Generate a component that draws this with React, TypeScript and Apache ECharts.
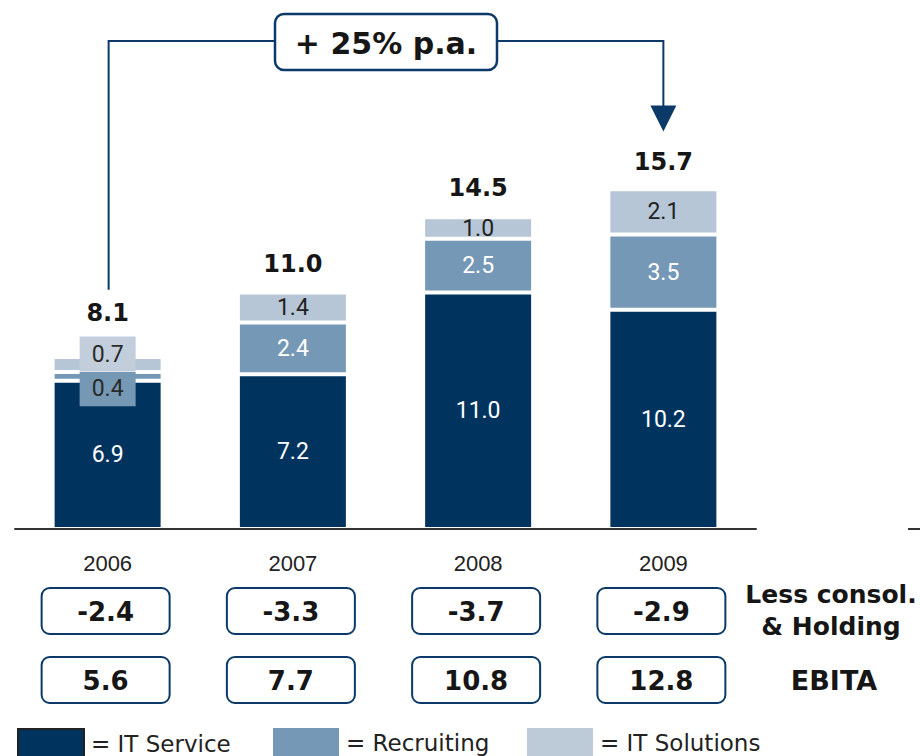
import { useEffect, useRef } from "react";
import * as echarts from "echarts";

// Revenue by segment (EUR m)
const years = ["2006", "2007", "2008", "2009"];
const itService = [6.9, 7.2, 11.0, 10.2];
const recruiting = [0.4, 2.4, 2.5, 3.5];
const itSolutions = [0.7, 1.4, 1.0, 2.1];
const totals = [8.1, 11.0, 14.5, 15.7];
// Rows under the axis
const consolHolding = [-2.4, -3.3, -3.7, -2.9];
const ebita = [5.6, 7.7, 10.8, 12.8];
const growthText = "+ 25% p.a.";
const rowLabels = ["Less consol.", "& Holding"];
const ebitaLabel = "EBITA";

const NAVY = "#00345f";
const STEEL = "#7498b5";
const PALE = "#b6c6d6";
const LINE = "#0b3a68";
const INK = "#161616";
const BOLD = '"DejaVu Sans", sans-serif';

const fmt = (v: number) => v.toFixed(1);

export default function App() {
  const ref = useRef<HTMLDivElement>(null);

  useEffect(() => {
    const chart = echarts.init(ref.current!, null, { renderer: "svg" });

    const insideLabel = (color: string) => ({
      show: true,
      position: "inside" as const,
      color,
      fontFamily: "Roboto",
      fontSize: 23,
      formatter: (p: any) => fmt(p.value),
    });

    // 2006 segments are too thin for their labels: show them as boxes
    const smallBox = (bg: string, dy: number) => ({
      show: true,
      position: "inside",
      offset: [0, dy],
      width: 56,
      height: 35,
      lineHeight: 35,
      align: "center",
      verticalAlign: "middle",
      backgroundColor: bg,
      color: "#2a2a2a",
      fontFamily: "Roboto",
      fontSize: 23,
    });

    const legendBase = {
      top: 723,
      itemWidth: 66,
      itemHeight: 34,
      icon: "rect",
      selectedMode: false,
      formatter: "{t|= {name}}",
      textStyle: {
        rich: {
          t: {
            fontFamily: '"DejaVu Sans", sans-serif',
            fontSize: 23,
            lineHeight: 22,
            color: "#222",
            padding: [0, 0, 5, 2],
          },
        },
      },
    };

    chart.setOption({
      animation: false,
      grid: { left: 15, right: 164, top: 99, bottom: 227 },
      legend: [
        {
          ...legendBase,
          left: 12,
          data: [{ name: "IT Service", itemStyle: { borderColor: "#222", borderWidth: 2 } }],
        },
        {
          ...legendBase,
          left: 268,
          data: [{ name: "Recruiting", itemStyle: { borderWidth: 0 } }],
        },
        {
          ...legendBase,
          left: 522,
          data: [{ name: "IT Solutions", itemStyle: { borderWidth: 0, color: "#bdcad8" } }],
        },
      ],
      xAxis: {
        type: "category",
        data: years,
        z: 10,
        axisLine: { lineStyle: { color: "#333", width: 2 } },
        axisTick: { show: false },
        axisLabel: {
          margin: 23,
          fontFamily: '"Liberation Sans", sans-serif',
          fontSize: 22,
          color: "#222",
        },
      },
      yAxis: { type: "value", min: 0, max: 20, show: false, splitLine: { show: false } },
      series: [
        {
          name: "IT Service",
          type: "bar",
          stack: "rev",
          barWidth: 110,
          itemStyle: { color: NAVY, borderColor: "#fff", borderWidth: 2 },
          label: insideLabel("#fff"),
          emphasis: { disabled: true },
          data: itService,
        },
        {
          name: "Recruiting",
          type: "bar",
          stack: "rev",
          itemStyle: { color: STEEL, borderColor: "#fff", borderWidth: 2 },
          label: insideLabel("#fff"),
          emphasis: { disabled: true },
          data: recruiting.map((v, i) =>
            i === 0 ? { value: v, label: smallBox("#7598b4", 12.5) } : v
          ),
        },
        {
          name: "IT Solutions",
          type: "bar",
          stack: "rev",
          itemStyle: { color: PALE, borderColor: "#fff", borderWidth: 2 },
          label: insideLabel("#222"),
          emphasis: { disabled: true },
          data: itSolutions.map((v, i) =>
            i === 0 ? { value: v, label: smallBox("#c2cedb", -10.5) } : v
          ),
          z: 3,
        },
        {
          name: "Total",
          type: "scatter",
          symbolSize: 0,
          itemStyle: { color: INK, opacity: 1 },
          silent: true,
          label: {
            show: true,
            position: "top",
            distance: 17,
            fontFamily: BOLD,
            fontWeight: "bold",
            fontSize: 24,
            color: INK,
            opacity: 1,
            textBorderWidth: 0,
            formatter: (p: any) => fmt(p.value),
          },
          data: totals.map((v, i) =>
            i === 0 ? { value: v, label: { distance: 30 } } : v
          ),
          z: 5,
        },
      ],
    });

    // Annotations placed from the axes' own pixel mapping
    const cx = years.map((y) => chart.convertToPixel({ xAxisIndex: 0 }, y) as number);
    const py = (v: number) => chart.convertToPixel({ yAxisIndex: 0 }, v) as number;

    const boxW = 128;
    const boxH = 46;
    const rowBox = (vals: number[], top: number) =>
      vals.map((v, i) => ({
        type: "group",
        children: [
          {
            type: "rect",
            shape: { x: cx[i] - 2 - boxW / 2, y: top, width: boxW, height: boxH, r: 8 },
            style: { fill: "#fff", stroke: LINE, lineWidth: 2 },
          },
          {
            type: "text",
            style: {
              text: fmt(v),
              x: cx[i] - 2,
              y: top + boxH / 2 + 1,
              textAlign: "center",
              textVerticalAlign: "middle",
              font: `bold 26px ${BOLD}`,
              fill: INK,
            },
          },
        ],
      }));

    const leftX = cx[0] + 1;
    const rightX = cx[3];
    const bracketY = 41;
    const boxLeft = 275;
    const boxRight = 497;
    const tipY = py(totals[3]) - 60;

    chart.setOption({
      graphic: [
        {
          type: "polyline",
          shape: {
            points: [
              [leftX, py(totals[0]) - 65],
              [leftX, bracketY],
              [boxLeft, bracketY],
            ],
          },
          style: { stroke: LINE, lineWidth: 2, fill: null },
        },
        {
          type: "polyline",
          shape: {
            points: [
              [boxRight, bracketY],
              [rightX, bracketY],
              [rightX, tipY - 24],
            ],
          },
          style: { stroke: LINE, lineWidth: 2, fill: null },
        },
        {
          type: "polygon",
          shape: {
            points: [
              [rightX - 13, tipY - 26],
              [rightX + 13, tipY - 26],
              [rightX, tipY],
            ],
          },
          style: { fill: LINE },
        },
        {
          type: "rect",
          shape: { x: boxLeft, y: 14, width: boxRight - boxLeft, height: 56, r: 9 },
          style: { fill: "#fff", stroke: LINE, lineWidth: 2.5 },
        },
        {
          type: "text",
          style: {
            text: growthText,
            x: (boxLeft + boxRight) / 2,
            y: 43,
            textAlign: "center",
            textVerticalAlign: "middle",
            font: `bold 30px ${BOLD}`,
            fill: INK,
          },
        },
        ...rowBox(consolHolding, 588),
        ...rowBox(ebita, 657),
        {
          type: "text",
          style: {
            text: rowLabels[0],
            x: 831,
            y: 594,
            textAlign: "center",
            textVerticalAlign: "middle",
            font: `bold 25px ${BOLD}`,
            fill: INK,
          },
        },
        {
          type: "text",
          style: {
            text: rowLabels[1],
            x: 831,
            y: 626,
            textAlign: "center",
            textVerticalAlign: "middle",
            font: `bold 25px ${BOLD}`,
            fill: INK,
          },
        },
        {
          type: "text",
          style: {
            text: ebitaLabel,
            x: 834,
            y: 680,
            textAlign: "center",
            textVerticalAlign: "middle",
            font: `bold 27px ${BOLD}`,
            fill: INK,
          },
        },
        {
          type: "line",
          shape: { x1: 908, y1: 529, x2: 920, y2: 529 },
          style: { stroke: "#333", lineWidth: 2 },
        },
      ],
    });

    return () => chart.dispose();
  }, []);

  return (
    <div
      ref={ref}
      style={{ position: "absolute", left: 0, top: 0, width: 920, height: 756 }}
    />
  );
}
